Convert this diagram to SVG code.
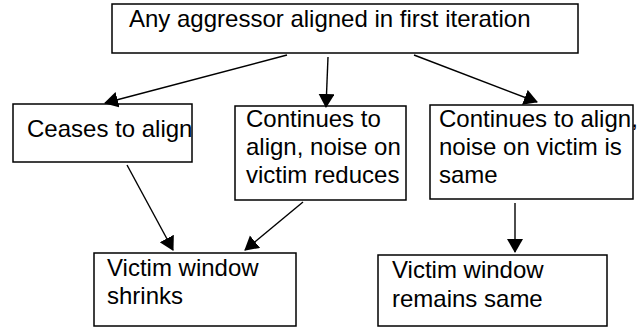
<svg xmlns="http://www.w3.org/2000/svg" width="640" height="328" viewBox="0 0 640 328">
<style>
.box{fill:#fff;stroke:#000;stroke-width:1.5}
.t{font-family:"Liberation Sans",Arial,sans-serif;font-size:24px;fill:#000}
.c{stroke:#000;stroke-width:1.4;fill:none;marker-end:url(#ah)}
</style>
<defs>
<marker id="ah" markerUnits="userSpaceOnUse" markerWidth="14" markerHeight="17" refX="13" refY="8" orient="auto" viewBox="0 0 14 17">
<path d="M0,0 L14,8 L0,16 z" fill="#000"/>
</marker>
</defs>
<rect width="640" height="328" fill="#fff"/>
<g id="n-top">
<rect class="box" x="112" y="4" width="466" height="49"/>
<text class="t" x="129" y="27">Any aggressor aligned in first iteration</text>
</g>
<g id="n-ceases">
<rect class="box" x="13" y="104" width="179" height="58"/>
<text class="t" x="27" y="137">Ceases to align</text>
</g>
<g id="n-reduces">
<rect class="box" x="235" y="106" width="171" height="94"/>
<text class="t" x="246" y="127">Continues to</text>
<text class="t" x="246" y="155">align, noise on</text>
<text class="t" x="246" y="183">victim reduces</text>
</g>
<g id="n-same">
<rect class="box" x="430" y="105" width="203" height="94"/>
<text class="t" x="439" y="127">Continues to align,</text>
<text class="t" x="439" y="155">noise on victim is</text>
<text class="t" x="439" y="183">same</text>
</g>
<g id="n-shrinks">
<rect class="box" x="94" y="253" width="202" height="73"/>
<text class="t" x="107" y="276">Victim window</text>
<text class="t" x="107" y="304">shrinks</text>
</g>
<g id="n-remains">
<rect class="box" x="378" y="255" width="229" height="71"/>
<text class="t" x="392" y="278">Victim window</text>
<text class="t" x="392" y="307">remains same</text>
</g>
<g id="connectors">
<line class="c" x1="287" y1="55" x2="105" y2="103"/>
<line class="c" x1="328" y1="57" x2="326" y2="107"/>
<line class="c" x1="414" y1="55" x2="537" y2="102"/>
<line class="c" x1="127" y1="165" x2="173" y2="250"/>
<line class="c" x1="303" y1="202" x2="245" y2="250"/>
<line class="c" x1="515" y1="203" x2="515" y2="252"/>
</g>
</svg>
